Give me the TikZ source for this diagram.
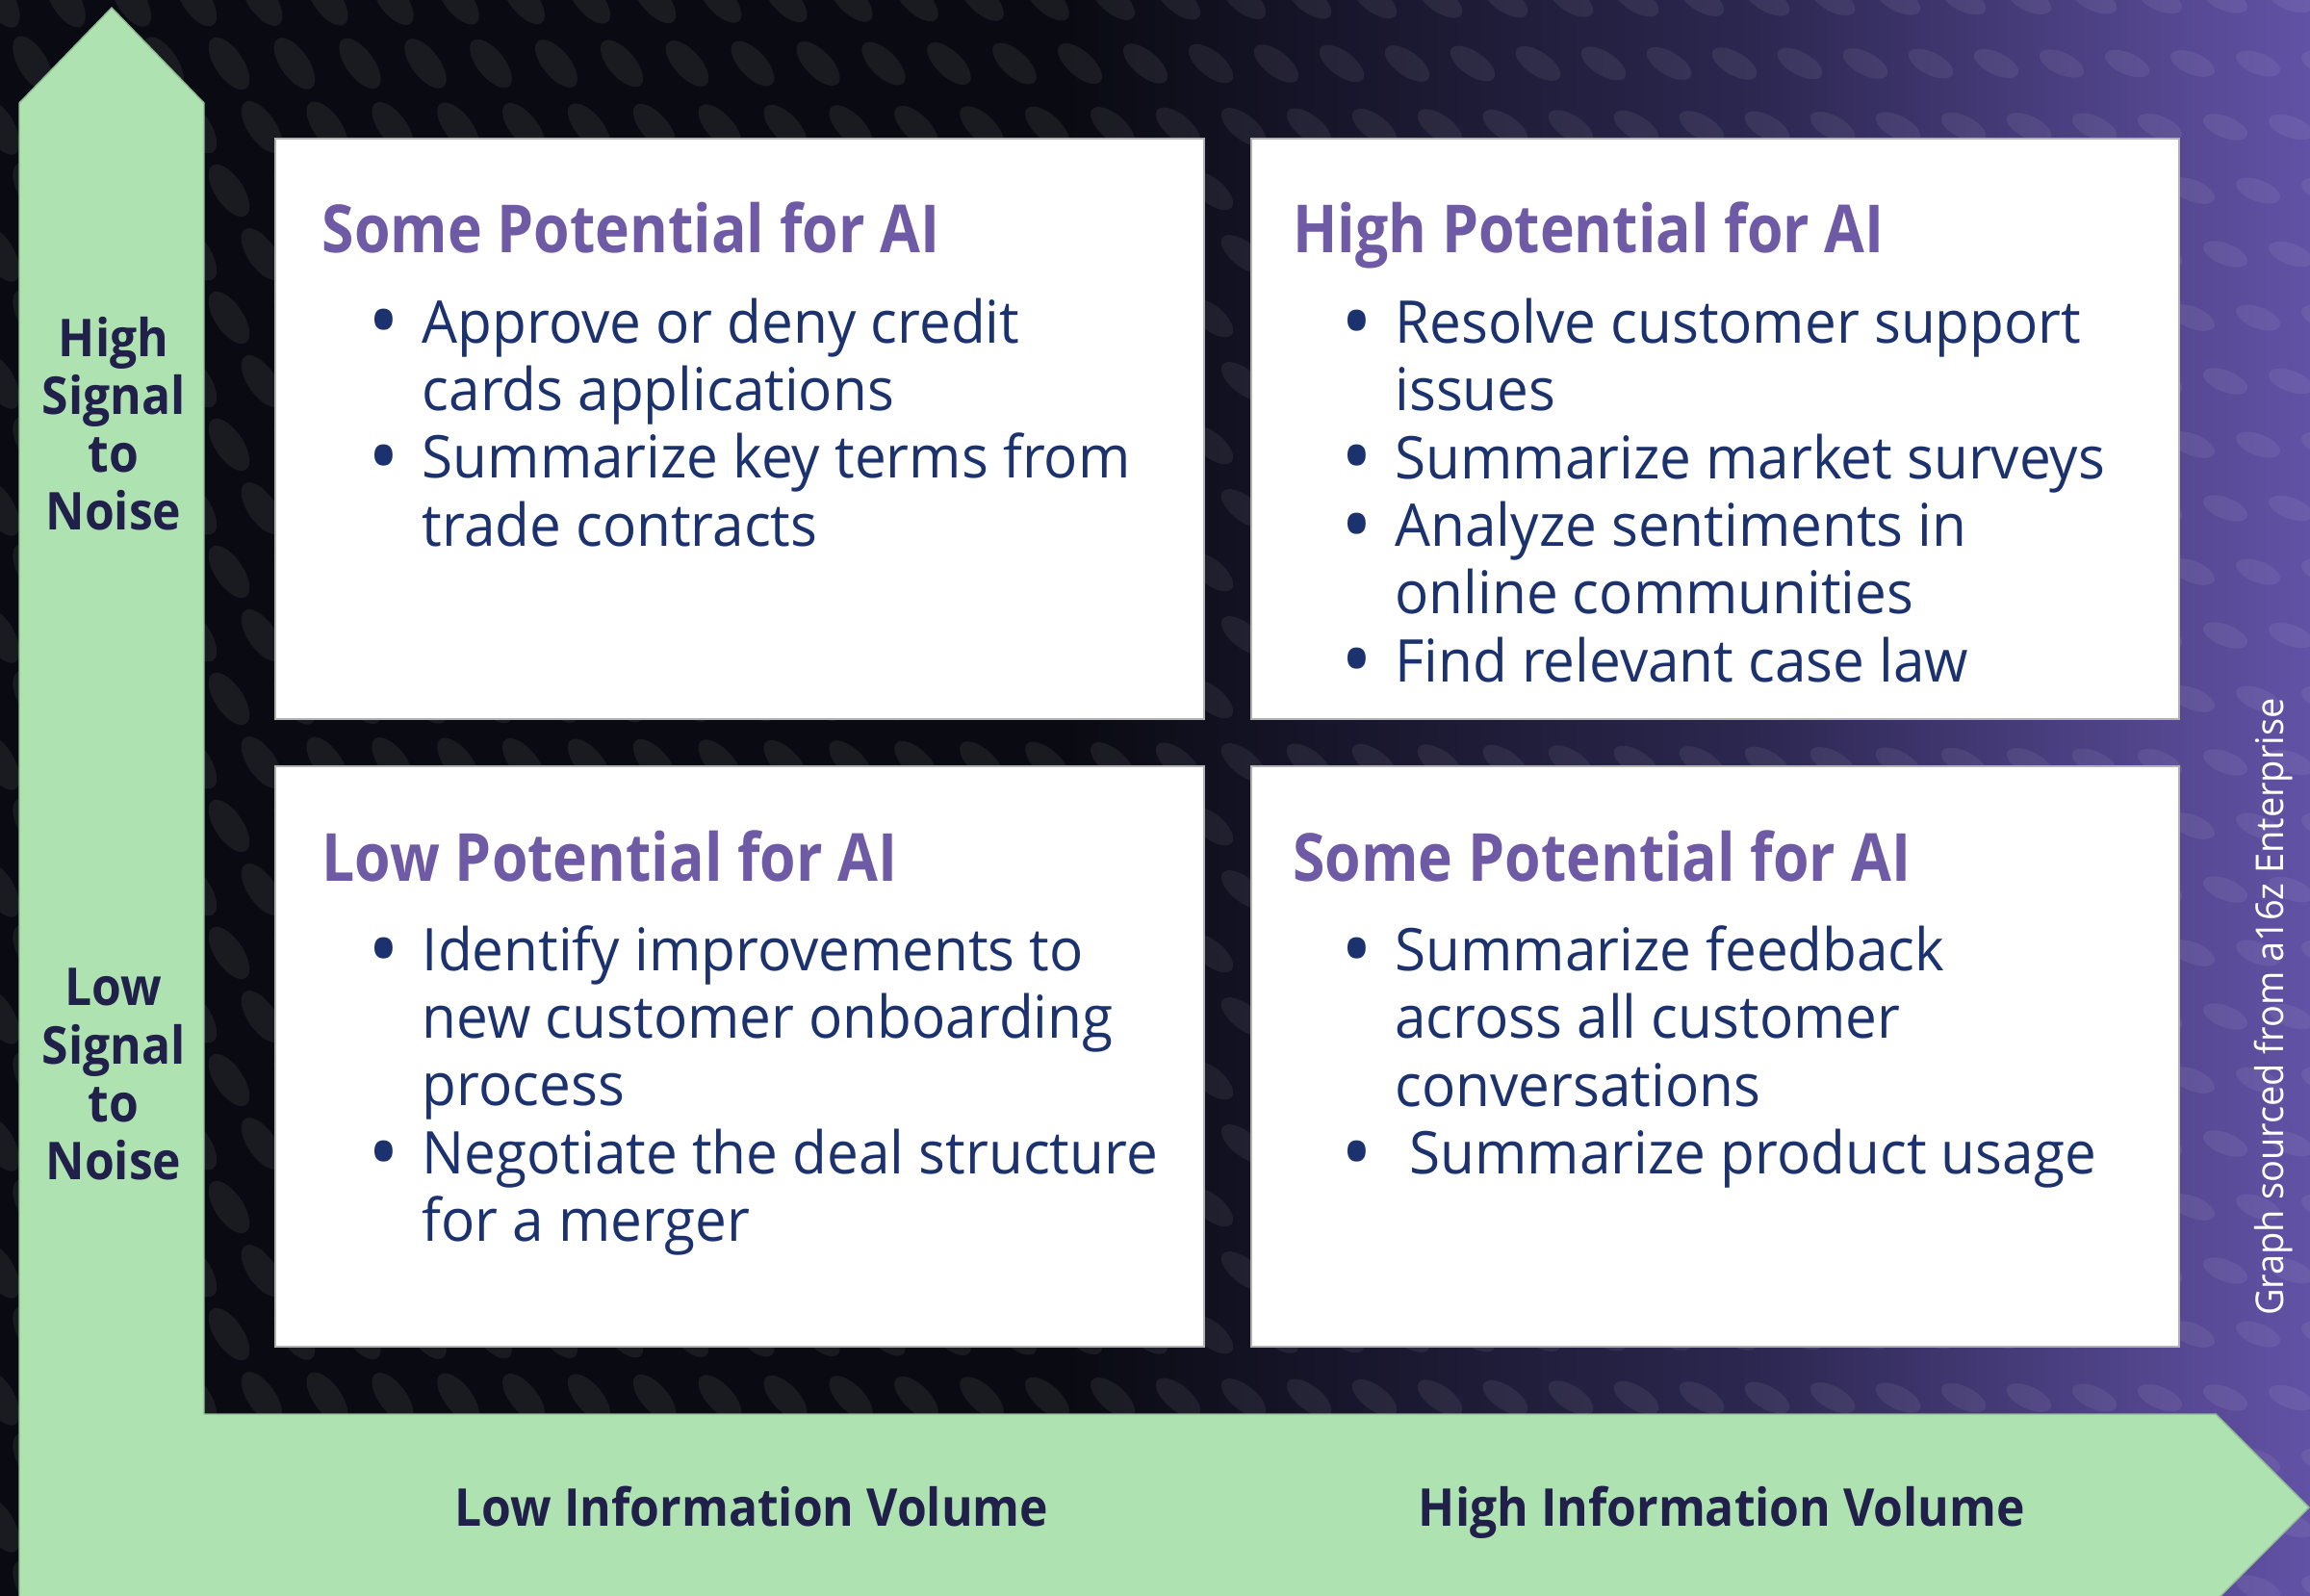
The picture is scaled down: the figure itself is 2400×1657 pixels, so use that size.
\documentclass[tikz,border=0pt]{standalone}
\usepackage{fontspec}
\setmainfont{Open Sans}[FakeStretch=0.955]
\newfontfamily\headfont{Open Sans}[FakeStretch=0.88]
\newfontfamily\axisfont{Open Sans}[FakeStretch=0.92]
\usepackage{tikz}
\usetikzlibrary{positioning, calc}

\definecolor{bgdark}{HTML}{0A0A12}
\definecolor{bgmid}{HTML}{2C2750}
\definecolor{bgpurple}{HTML}{6252A6}
\definecolor{axisgreen}{HTML}{AEE3B1}
\definecolor{axisedge}{HTML}{8FB894}
\definecolor{titlepurple}{HTML}{6F5AA6}
\definecolor{bodynavy}{HTML}{1B326E}
\definecolor{axisnavy}{HTML}{20204A}

\pgfdeclarehorizontalshading{bgshade}{100bp}{color(0bp)=(bgdark); color(25bp)=(bgdark);
  color(48bp)=(bgdark); color(63bp)=(bgmid); color(75bp)=(bgpurple); color(100bp)=(bgpurple)}

\newcommand{\qb}{\makebox[0.49cm][l]{\hspace*{-0.07cm}\raisebox{-2.8pt}{\fontsize{26}{20}\selectfont\textbullet}}}
\newcommand{\qi}{\hspace*{0.49cm}}

\tikzset{
  quad/.style={draw=black!30, line width=0.6pt, fill=white,
    minimum width=9.64cm, minimum height=6.03cm, inner sep=0pt},
  quadtitle/.style={anchor=base west, inner sep=0pt, text=titlepurple,
    font=\headfont\bfseries\fontsize{19.6}{23}\selectfont},
  % base of a body node is the baseline of its last line
  quadbody/.style={anchor=base west, inner sep=0pt, align=left, text=bodynavy,
    font=\fontsize{17.4}{20}\selectfont},
  axislabel/.style={text=axisnavy, align=center, inner sep=0pt,
    font=\axisfont\bfseries\fontsize{15.4}{17.1}\selectfont},
}

\begin{document}
\begin{tikzpicture}[x=0.01cm, y=-0.01cm]
\useasboundingbox (0,0) rectangle (2400,1657);
\clip (0,0) rectangle (2400,1657);

% background with dots
\shade[shading=bgshade] (0,0) rectangle (2400,1657);
\foreach \i in {0,...,35} {
  \foreach \j in {0,...,25} {
    \pgfmathsetmacro\ex{\i*68+mod(\j,2)*34}
    \pgfmathsetmacro\ey{\j*66}
    \pgfmathsetmacro\ea{-60+\ex/60}
    \pgfmathsetmacro\erx{32-\ex/300}
    \pgfmathsetmacro\ery{15-\ex/600}
    \fill[white, opacity=0.065, rotate around={\ea:(\ex,\ey)}]
      (\ex,\ey) ellipse [x radius=\erx, y radius=\ery];
  }
}

% axes
\fill[axisgreen, draw=axisedge, line width=0.4pt]
  (20,1700) -- (20,107) -- (116,8) -- (212,107) -- (212,1469)
  -- (2302,1469) -- (2399,1566) -- (2302,1663) -- (2265,1700) -- cycle;

% quadrants
\node (TL) [quad, anchor=north west] at (285,143) {};
\node (TR) [quad, right=0.47cm of TL] {};
\node (BL) [quad, below=0.46cm of TL] {};
\node (BR) [quad, right=0.47cm of BL] {};

\node (TLh) [quadtitle] at ($(TL.north west)+(49,119)$) {Some Potential for AI};
\node (TLb) [quadbody] at ($(TL.north west)+(104,424)$)
  {\qb Approve or deny credit\\ \qi cards applications\\
   \qb Summarize key terms from\\ \qi trade contracts};

\node (TRh) [quadtitle] at ($(TR.north west)+(44,119)$) {High Potential for AI};
\node (TRb) [quadbody] at ($(TR.north west)+(101,565)$)
  {\qb Resolve customer support\\ \qi issues\\
   \qb Summarize market surveys\\
   \qb Analyze sentiments in\\ \qi online communities\\
   \qb Find relevant case law};

\node (BLh) [quadtitle] at ($(BL.north west)+(49,121)$) {Low Potential for AI};
\node (BLb) [quadbody] at ($(BL.north west)+(104,495)$)
  {\qb Identify improvements to\\ \qi new customer onboarding\\ \qi process\\
   \qb Negotiate the deal structure\\ \qi for a merger};

\node (BRh) [quadtitle] at ($(BR.north west)+(44,121)$) {Some Potential for AI};
\node (BRb) [quadbody] at ($(BR.north west)+(101,425)$)
  {\qb Summarize feedback\\ \qi across all customer\\ \qi conversations\\
   \qb\ Summarize product usage};

% axis labels
\node (HS) [axislabel] at (118,440) {High\\Signal\\to\\Noise};
\node (LS) [axislabel] at (118,1116) {Low\\Signal\\to\\Noise};
\node (LI) [axislabel, anchor=base] at (781,1585) {Low Information Volume};
\node (HI) [axislabel, anchor=base] at (1789,1585) {High Information Volume};

\node (src) [rotate=90, text=white, font=\fontsize{11.3}{13}\selectfont] at (2362,1046)
  {Graph sourced from a16z Enterprise};
\end{tikzpicture}
\end{document}
